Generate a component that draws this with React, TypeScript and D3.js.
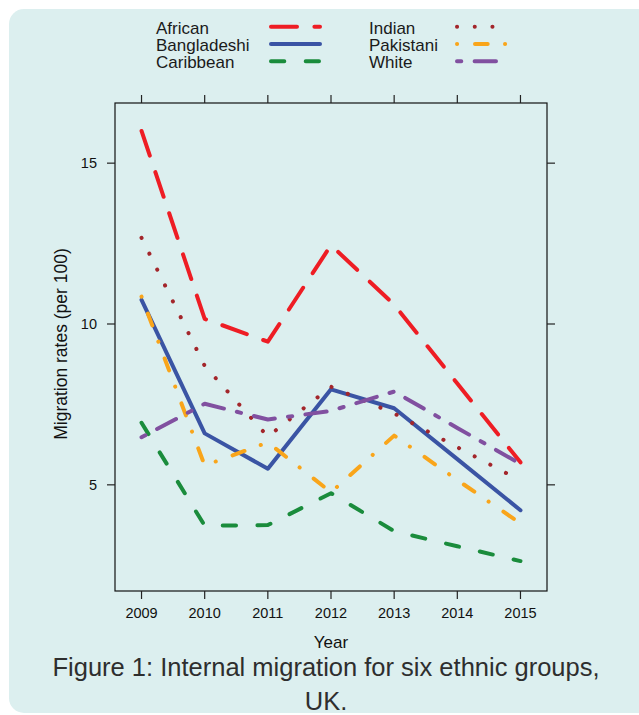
import React from "react";
import * as d3 from "d3";

const years = [2009, 2010, 2011, 2012, 2013, 2014, 2015];
const yTicks = [5, 10, 15];

const african = [16.0, 10.16, 9.45, 12.45, 10.6, 8.15, 5.7];
const bangladeshi = [10.75, 6.6, 5.5, 7.97, 7.38, 5.8, 4.21];
const caribbean = [6.93, 3.73, 3.75, 4.74, 3.56, 3.09, 2.63];
const indian = [12.68, 8.7, 6.5, 8.05, 7.22, 6.17, 5.13];
const pakistani = [10.85, 5.6, 6.32, 4.77, 6.53, 5.15, 3.8];
const white = [6.48, 7.52, 7.03, 7.3, 7.9, 6.77, 5.65];

const seriesNames = ["African", "Bangladeshi", "Caribbean", "Indian", "Pakistani", "White"];
const seriesValues = [african, bangladeshi, caribbean, indian, pakistani, white];

const styles: Record<string, { color: string; dash: string }> = {
  African: { color: "#ee1d24", dash: "26 17.4" },
  Bangladeshi: { color: "#3a54a4", dash: "none" },
  Caribbean: { color: "#1a8c3c", dash: "13.3 21.4" },
  Indian: { color: "#a3262b", dash: "0.1 17.6" },
  Pakistani: { color: "#f9a51a", dash: "0.1 17.9 12.7 17.3" },
  White: { color: "#8150a0", dash: "4.3 13.3 21.4 13.3" },
};

const W = 639;
const H = 715;
const font = "'Liberation Sans', Arial, Helvetica, sans-serif";

// panel box
const left = 115;
const right = 547;
const top = 103;
const bottom = 591;

export default function App() {
  const x = d3.scaleLinear().domain([2008.58, 2015.42]).range([left, right]);
  const y = d3.scaleLinear().domain([1.7, 16.87]).range([bottom, top]);

  const line = d3
    .line<number>()
    .x((_, i) => x(years[i]))
    .y((d) => y(d));

  // legend layout
  const legCols = [
    { textX: 156, x0: 271, x1: 320 },
    { textX: 369, x0: 457, x1: 506 },
  ];
  const legRowY = [26.7, 44, 61.3];

  return (
    <div style={{ position: "absolute", left: 0, top: 0 }}>
      <svg width={W} height={H} style={{ display: "block" }} fontFamily={font}>
        <rect x={0} y={0} width={W} height={H} fill="#ffffff" />
        <rect x={9} y={9} width={700} height={704} rx={15} fill="#dcefef" />

        {/* legend */}
        {seriesNames.map((name, i) => {
          const col = legCols[Math.floor(i / 3)];
          const ry = legRowY[i % 3];
          const s = styles[name];
          return (
            <g key={name}>
              <text x={col.textX} y={ry + 7} fontSize={17} fill="#1a1a1a">
                {name}
              </text>
              <line
                x1={col.x0}
                x2={col.x1}
                y1={ry}
                y2={ry}
                stroke={s.color}
                strokeWidth={4}
                strokeLinecap="round"
                strokeDasharray={s.dash}
              />
            </g>
          );
        })}

        {/* series */}
        {seriesNames.map((name, i) => {
          const s = styles[name];
          return (
            <path
              key={name}
              d={line(seriesValues[i]) || ""}
              fill="none"
              stroke={s.color}
              strokeWidth={4}
              strokeLinecap="round"
              strokeLinejoin="round"
              strokeDasharray={s.dash}
            />
          );
        })}

        {/* frame */}
        <rect
          x={left}
          y={top}
          width={right - left}
          height={bottom - top}
          fill="none"
          stroke="#111"
          strokeWidth={1.2}
        />

        {/* x ticks */}
        {years.map((yr) => (
          <g key={yr}>
            <line x1={x(yr)} x2={x(yr)} y1={bottom} y2={bottom + 8} stroke="#222" strokeWidth={1.2} />
            <line x1={x(yr)} x2={x(yr)} y1={top} y2={top - 8} stroke="#222" strokeWidth={1.2} />
            <text x={x(yr)} y={bottom + 27} fontSize={14.5} textAnchor="middle" fill="#111">
              {yr}
            </text>
          </g>
        ))}

        {/* y ticks */}
        {yTicks.map((t) => (
          <g key={t}>
            <line x1={left} x2={left - 8} y1={y(t)} y2={y(t)} stroke="#222" strokeWidth={1.2} />
            <line x1={right} x2={right + 8} y1={y(t)} y2={y(t)} stroke="#222" strokeWidth={1.2} />
            <text x={left - 18} y={y(t) + 5} fontSize={14.5} textAnchor="end" fill="#111">
              {t}
            </text>
          </g>
        ))}

        {/* axis titles */}
        <text x={(left + right) / 2} y={648} fontSize={17} textAnchor="middle" fill="#111">
          Year
        </text>
        <text
          transform={`translate(67, 344) rotate(-90)`}
          fontSize={17.5}
          textAnchor="middle"
          fill="#111"
        >
          Migration rates (per 100)
        </text>

        {/* caption */}
        <text x={326} y={676} fontSize={25.5} textAnchor="middle" fill="#2e2e2e">
          Figure 1: Internal migration for six ethnic groups,
        </text>
        <text x={326} y={710} fontSize={25.5} textAnchor="middle" fill="#2e2e2e">
          UK.
        </text>
      </svg>
    </div>
  );
}
